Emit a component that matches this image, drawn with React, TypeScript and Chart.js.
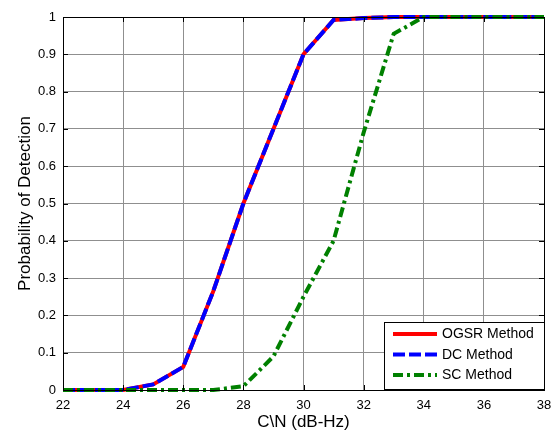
import React, { useEffect, useRef } from "react";
import { Chart, registerables } from "chart.js";

Chart.register(...registerables);

const snr = [22, 23, 24, 25, 26, 27, 28, 29, 30, 31, 32, 33, 34, 35, 36, 37, 38];
const ogsr = [0, 0, 0, 0.015, 0.062, 0.265, 0.5, 0.7, 0.9, 0.992, 0.997, 1, 1, 1, 1, 1, 1];
const dc = [0, 0, 0, 0.015, 0.062, 0.265, 0.5, 0.7, 0.9, 0.992, 0.997, 1, 1, 1, 1, 1, 1];
const sc = [0, 0, 0, 0, 0, 0, 0.01, 0.09, 0.25, 0.4, 0.69, 0.955, 1, 1, 1, 1, 1];
const seriesNames = ["OGSR Method", "DC Method", "SC Method"];
const xTitle = "C\\N (dB-Hz)";
const yTitle = "Probability of Detection";

const FONT = "'Liberation Sans', Arial, sans-serif";

const framePlugin = {
  id: "frame",
  afterDraw(chart: any) {
    const { ctx, chartArea: a, scales } = chart;
    ctx.save();
    ctx.strokeStyle = "#000";
    ctx.lineWidth = 1;
    const tl = 5;
    ctx.beginPath();
    scales.x.ticks.forEach((t: any) => {
      const x = Math.round(scales.x.getPixelForValue(t.value)) + 0.5;
      ctx.moveTo(x, a.bottom);
      ctx.lineTo(x, a.bottom - tl);
      ctx.moveTo(x, a.top);
      ctx.lineTo(x, a.top + tl);
    });
    scales.y.ticks.forEach((t: any) => {
      const y = Math.round(scales.y.getPixelForValue(t.value)) + 0.5;
      ctx.moveTo(a.left, y);
      ctx.lineTo(a.left + tl, y);
      ctx.moveTo(a.right, y);
      ctx.lineTo(a.right - tl, y);
    });
    ctx.stroke();
    ctx.strokeRect(Math.round(a.left) + 0.5, Math.round(a.top) + 0.5, Math.round(a.right - a.left), Math.round(a.bottom - a.top));

    // legend
    const lx = 384, ly = 322, lw = 160, lh = 67;
    ctx.fillStyle = "#fff";
    ctx.fillRect(lx, ly, lw, lh);
    ctx.strokeStyle = "#000";
    ctx.lineWidth = 1;
    ctx.strokeRect(lx + 0.5, ly + 0.5, lw, lh);
    ctx.font = `14px ${FONT}`;
    ctx.textBaseline = "middle";
    chart.data.datasets.forEach((ds: any, i: number) => {
      const y = ly + 12 + i * 20.5;
      ctx.save();
      ctx.strokeStyle = ds.borderColor;
      ctx.lineWidth = ds.borderWidth;
      ctx.setLineDash(ds.borderDash || []);
      ctx.beginPath();
      ctx.moveTo(lx + 9, y);
      ctx.lineTo(lx + 53, y);
      ctx.stroke();
      ctx.restore();
      ctx.fillStyle = "#000";
      ctx.fillText(ds.label, lx + 58, y + 0.5);
    });
    ctx.restore();
  },
};

export default function App() {
  const ref = useRef<HTMLCanvasElement | null>(null);
  useEffect(() => {
    if (!ref.current) return;
    const chart = new Chart(ref.current, {
      type: "line",
      data: {
        datasets: [
          {
            label: seriesNames[0],
            data: snr.map((x, i) => ({ x, y: ogsr[i] })),
            borderColor: "#ff0000",
            borderWidth: 4,
            pointRadius: 0,
            clip: false,
            order: 2,
          },
          {
            label: seriesNames[1],
            data: snr.map((x, i) => ({ x, y: dc[i] })),
            borderColor: "#0000ff",
            borderWidth: 4,
            borderDash: [12, 4],
            pointRadius: 0,
            clip: false,
            order: 1,
          },
          {
            label: seriesNames[2],
            data: snr.map((x, i) => ({ x, y: sc[i] })),
            borderColor: "#008000",
            borderWidth: 4,
            borderDash: [10, 4, 3, 4],
            pointRadius: 0,
            clip: false,
            order: 0,
          },
        ],
      },
      options: {
        animation: false,
        responsive: false,
        devicePixelRatio: 1,
        layout: { padding: { top: 17, right: 11, left: 0, bottom: 0 } },
        plugins: { legend: { display: false }, tooltip: { enabled: false } },
        scales: {
          x: {
            type: "linear",
            min: 22,
            max: 38,
            border: { display: false },
            grid: { color: "#8f8f8f", lineWidth: 1, drawTicks: false },
            ticks: {
              stepSize: 2,
              padding: 8,
              color: "#000",
              font: { family: FONT, size: 13 },
              maxRotation: 0,
            },
            title: {
              display: true,
              text: xTitle,
              color: "#000",
              font: { family: FONT, size: 17 },
              padding: { top: 0, bottom: 1 },
            },
            afterFit: (s: any) => {
              s.height = 44;
              s.paddingLeft = 0;
              s.paddingRight = 0;
            },
          },
          y: {
            type: "linear",
            min: 0,
            max: 1,
            border: { display: false },
            grid: { color: "#8f8f8f", lineWidth: 1, drawTicks: false },
            ticks: {
              stepSize: 0.1,
              padding: 7,
              color: "#000",
              font: { family: FONT, size: 13 },
              callback: (v: any) => String(Math.round(Number(v) * 10) / 10),
            },
            title: {
              display: true,
              text: yTitle,
              color: "#000",
              font: { family: FONT, size: 17 },
              padding: { top: 15, bottom: 0 },
            },
            afterFit: (s: any) => {
              s.width = 63;
              s.paddingTop = 0;
              s.paddingBottom = 0;
            },
          },
        },
      },
      plugins: [framePlugin],
    });
    return () => chart.destroy();
  }, []);
  return (
    <div style={{ position: "fixed", left: 0, top: 0, width: 555, height: 434, background: "#fff" }}>
      <canvas ref={ref} width={555} height={434} style={{ width: 555, height: 434, display: "block" }} />
    </div>
  );
}
